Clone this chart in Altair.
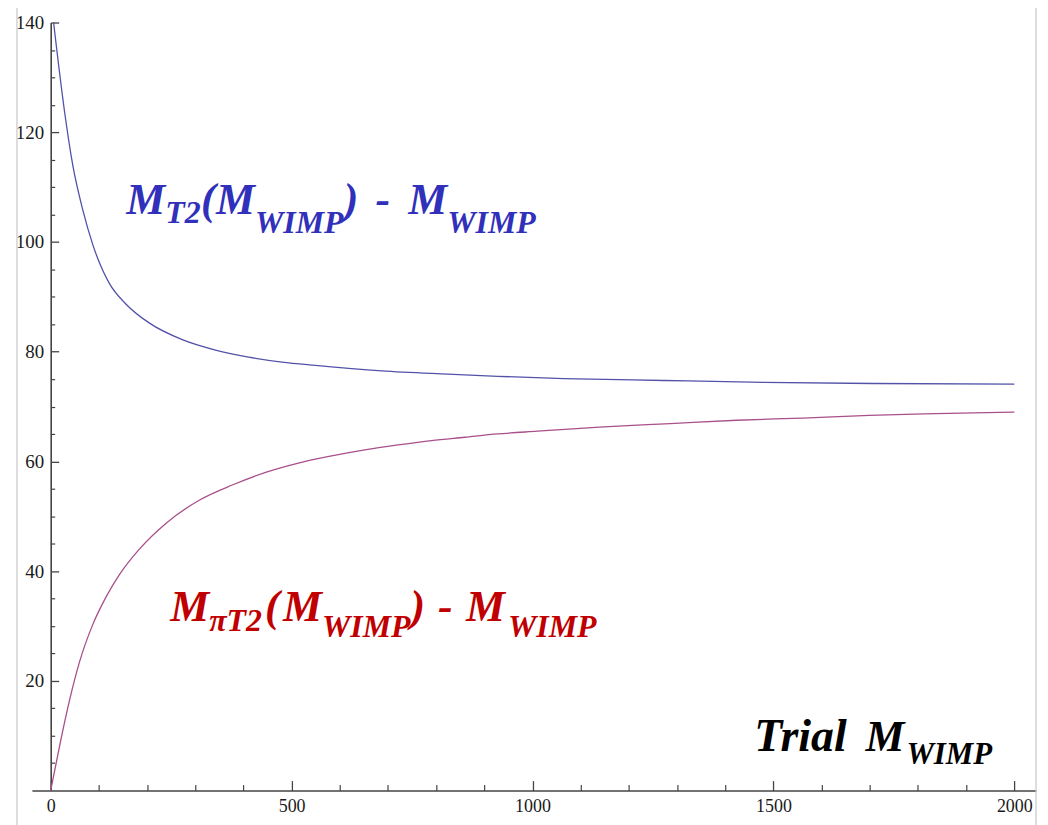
import altair as alt
import pandas as pd

# ---------------- data ----------------
mwimp_blue = [6, 29, 46, 67, 87, 122, 156, 205, 273, 342, 411, 480, 549,
              687, 824, 928, 1065, 1272, 1479, 1706, 2000]
mt2_minus_m = [140, 123.6, 113.9, 105.7, 99.6, 92.4, 88.7, 85.2, 82.2,
               80.3, 79.0, 78.1, 77.5, 76.5, 75.9, 75.5, 75.1, 74.75, 74.4,
               74.2, 74.1]

mwimp_red = [0, 20, 40, 60, 87, 115, 143, 184, 239, 310, 377, 446, 514, 583,
             652, 721, 790, 859, 928, 1010, 1148, 1286, 1424, 1561, 1699,
             1837, 2000]
mpit2_minus_m = [0, 8.8, 16.8, 23.5, 30.2, 35.3, 39.4, 44.0, 48.7, 53.0, 55.7,
                 58.0, 59.7, 61.0, 62.1, 63.0, 63.8, 64.4, 65.0, 65.5, 66.3,
                 66.9, 67.5, 67.9, 68.4, 68.7, 69.0]

x_tick_labels = [0, 500, 1000, 1500, 2000]
y_tick_labels = [20, 40, 60, 80, 100, 120, 140]
x_minor = [v for v in range(100, 2000, 100) if v % 500 != 0]
y_minor = [v for v in range(5, 140, 5) if v % 20 != 0]

# label pieces (text, anchor in data coordinates)
blue_main = (["M", "(", "M", ")", "-", "M"],
             [157, 312, 343, 608, 674, 742], 105.1)
blue_sub = (["T2", "WIMP", "WIMP"], [[238, 103.4], [424, 101.7], [823, 101.7]])
red_main = (["M", "(", "M", ")", "-", "M"],
            [248, 445, 482, 747, 804, 862], 30.9)
red_sub = (["πT2", "WIMP", "WIMP"], [[329, 29.0], [563, 27.9], [949, 27.9]])
black_main = (["Trial"], [1460], 7.3)
black_main2 = (["M"], [1691], 7.3)
black_sub = (["WIMP"], [[1776, 4.9]])

# ---------------- layout ----------------
W, H = 1008, 771
XDOM = [-39, 2045]
YDOM = [0, 140]
x0 = (0 - XDOM[0]) / (XDOM[1] - XDOM[0]) * W

FONT = "Liberation Serif"
AX = "#444444"
BLUE_LINE = "#5252a8"
RED_LINE = "#a8508a"
BLUE_TXT = "#3030bb"
RED_TXT = "#c00000"

xs = alt.Scale(domain=XDOM, nice=False, zero=False)
ys = alt.Scale(domain=YDOM, nice=False, zero=False)

common = dict(grid=False, title=None)

ax_x_lab = alt.Axis(orient="bottom", values=x_tick_labels, ticks=False, tickSize=0,
                    domain=False, labelFont=FONT, labelFontSize=18, format="d",
                    labelColor="#1a1a1a", labelPadding=7, labelFlush=False,
                    labelOverlap=False, **common)
ax_y_lab = alt.Axis(orient="left", values=y_tick_labels, ticks=False, tickSize=0,
                    domain=False, labelFont=FONT, labelFontSize=19, format="d",
                    labelColor="#1a1a1a", labelPadding=7, offset=-x0,
                    labelOverlap=False, **common)
ax_x_major = alt.Axis(orient="top", values=x_tick_labels, offset=-H, labels=False,
                      tickSize=10, tickWidth=1.3, tickColor=AX, domain=True,
                      domainColor=AX, domainWidth=1.6, **common)
ax_y_major = alt.Axis(orient="right", values=y_tick_labels, offset=-(W - x0),
                      labels=False, tickSize=8, tickWidth=1.3, tickColor=AX,
                      domain=True, domainColor=AX, domainWidth=1.6, **common)
ax_x_minor = alt.Axis(orient="top", values=x_minor, offset=-H, labels=False,
                      tickSize=6, tickWidth=1.2, tickColor=AX, domain=False, **common)
ax_y_minor = alt.Axis(orient="right", values=y_minor, offset=-(W - x0),
                      labels=False, tickSize=4, tickWidth=1.2, tickColor=AX,
                      domain=False, **common)

blue_df = pd.DataFrame({"m": mwimp_blue, "v": mt2_minus_m})
red_df = pd.DataFrame({"m": mwimp_red, "v": mpit2_minus_m})

blue = alt.Chart(blue_df).mark_line(color=BLUE_LINE, strokeWidth=1.3,
                                    interpolate="monotone").encode(
    x=alt.X("m:Q", scale=xs, axis=ax_x_lab),
    y=alt.Y("v:Q", scale=ys, axis=ax_y_lab),
)
red = alt.Chart(red_df).mark_line(color=RED_LINE, strokeWidth=1.3,
                                  interpolate="monotone").encode(
    x=alt.X("m:Q", scale=xs, axis=ax_x_major),
    y=alt.Y("v:Q", scale=ys, axis=ax_y_major),
)
minor = alt.Chart(red_df).mark_point(opacity=0).encode(
    x=alt.X("m:Q", scale=xs, axis=ax_x_minor),
    y=alt.Y("v:Q", scale=ys, axis=ax_y_minor),
)


def main_df(spec):
    texts, xs_, y = spec
    return pd.DataFrame({"t": texts, "x": xs_, "y": [y] * len(texts)})


def sub_df(spec):
    texts, pos = spec
    return pd.DataFrame({"t": texts, "x": [p[0] for p in pos], "y": [p[1] for p in pos]})


def text_layer(df, size, color):
    return alt.Chart(df).mark_text(font=FONT, fontStyle="italic", fontWeight="bold",
                                   fontSize=size, color=color, align="left",
                                   baseline="alphabetic").encode(
        x=alt.X("x:Q", scale=xs, axis=None),
        y=alt.Y("y:Q", scale=ys, axis=None),
        text="t:N",
    )


frame = alt.Chart(pd.DataFrame({"a": [0]})).mark_rect(
    fill=None, stroke="#c8c8c8", strokeWidth=1.2).encode(
    x=alt.value(-15), x2=alt.value(W), y=alt.value(-16), y2=alt.value(H + 60))

chart = alt.layer(
    frame, blue, red, minor,
    text_layer(main_df(blue_main), 44, BLUE_TXT),
    text_layer(sub_df(blue_sub), 32, BLUE_TXT),
    text_layer(main_df(red_main), 44, RED_TXT),
    text_layer(sub_df(red_sub), 32, RED_TXT),
    text_layer(main_df(black_main), 46, "#000000"),
    text_layer(main_df(black_main2), 44, "#000000"),
    text_layer(sub_df(black_sub), 31, "#000000"),
).resolve_axis(x="independent", y="independent").properties(
    width=W, height=H, autosize="none",
    padding={"left": 24, "top": 13, "right": 4, "bottom": 33},
    background="white",
).configure_view(stroke=None)

chart.save("out.html", embed_options={"renderer": "svg", "actions": False})
